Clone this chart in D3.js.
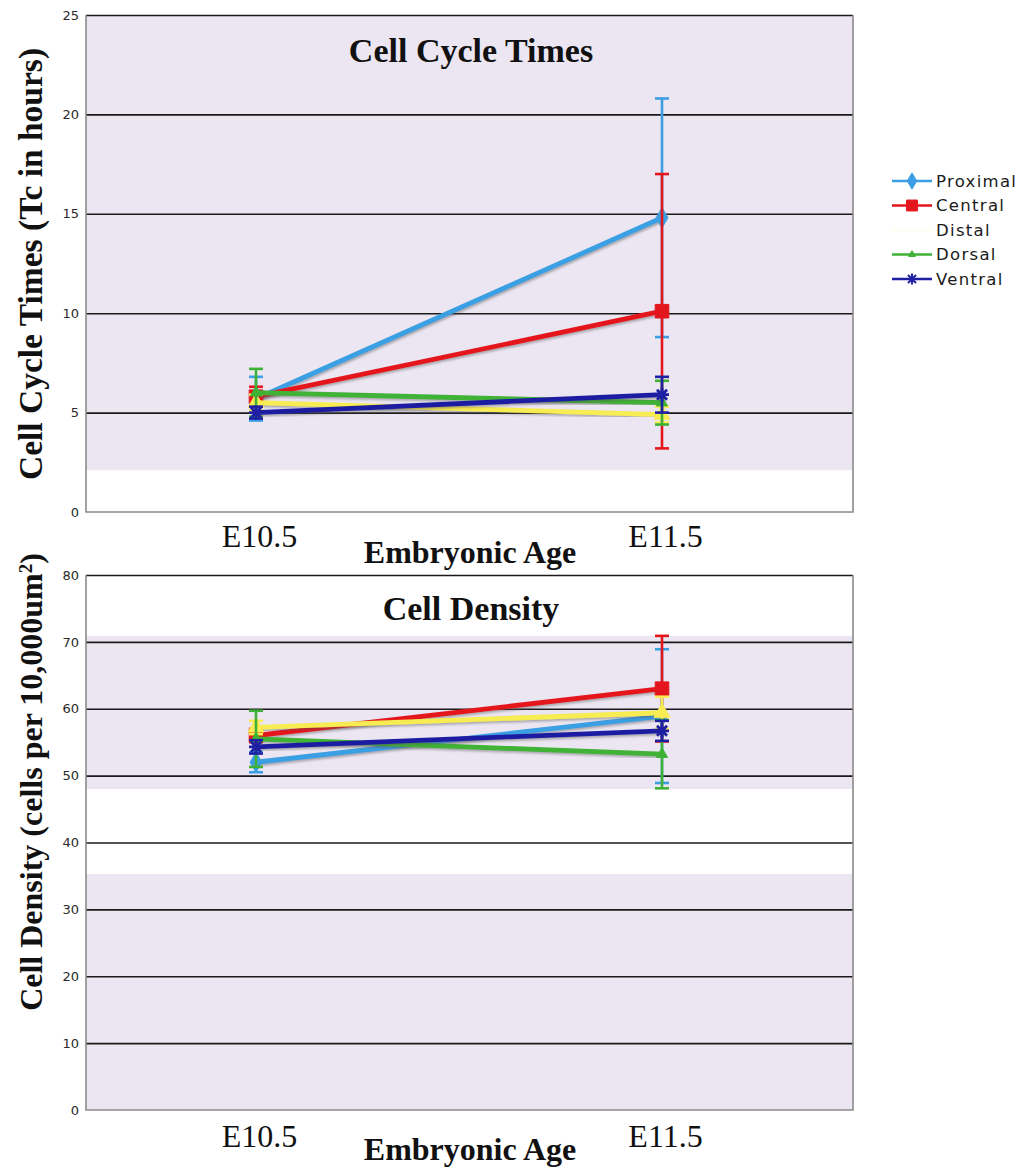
<!DOCTYPE html>
<html>
<head>
<meta charset="utf-8">
<script src="https://cdn.jsdelivr.net/npm/d3@7"></script>
<style>
  html, body { margin: 0; padding: 0; background: #fff; }
  svg { display: block; }
</style>
</head>
<body>
<svg id="chart" width="1031" height="1169"></svg>
<script>
// ---- data ----
const ages = ["E10.5", "E11.5"];
const regions = ["Proximal", "Central", "Distal", "Dorsal", "Ventral"];

// Cell cycle time Tc (hours): mean and error at each age
const tcProximal = [5.7, 14.8],  tcProximalErr = [1.1, 6.0];
const tcCentral  = [5.8, 10.1],  tcCentralErr  = [0.5, 6.9];
const tcDistal   = [5.5, 4.9],   tcDistalErr   = [0.4, 0.4];
const tcDorsal   = [6.0, 5.5],   tcDorsalErr   = [1.2, 1.1];
const tcVentral  = [5.0, 5.9],   tcVentralErr  = [0.3, 0.9];

// Cell density (cells per 10,000 um²): mean and error at each age
const denProximal = [52.0, 58.9], denProximalErr = [1.5, 10.0];
const denCentral  = [56.0, 63.0], denCentralErr  = [1.0, 7.9];
const denDistal   = [57.2, 59.4], denDistalErr   = [1.0, 2.4];
const denDorsal   = [55.5, 53.2], denDorsalErr   = [4.2, 5.1];
const denVentral  = [54.3, 56.7], denVentralErr  = [1.0, 1.5];

const tcTicks = [0, 5, 10, 15, 20, 25];
const denTicks = [0, 10, 20, 30, 40, 50, 60, 70, 80];

// shaded value ranges of the plot backgrounds
const tcShade = [[2.1, 25]];
const denShade = [[0, 35.3], [48, 70.9]];

// ---- styles ----
const colors = {
  Proximal: "#3b9fe3",
  Central: "#e4161d",
  Distal: "#f8ec52",
  Dorsal: "#3fb236",
  Ventral: "#1f1fa3"
};
const legendLineColors = Object.assign({}, colors, { Distal: "#fffdf0" });
const shadeColor = "#ebe6f2";

const svg = d3.select("#chart");
const defs = svg.append("defs");
defs.append("filter").attr("id", "lineShadow")
  .attr("x", "-5%").attr("y", "-20%").attr("width", "110%").attr("height", "140%")
  .append("feDropShadow")
  .attr("dx", 1).attr("dy", 1.8).attr("stdDeviation", 0.8)
  .attr("flood-color", "#555").attr("flood-opacity", 0.45);

function markerPath(name, scale) {
  const s = scale || 1;
  if (name === "Ventral") {
    const r = 7 * s;
    const d = r * 0.72;
    return `M${-d},${-d}L${d},${d}M${-d},${d}L${d},${-d}M0,${-r}L0,${r}M${-r},0L${r},0`;
  }
  const types = {
    Proximal: [d3.symbolDiamond, 120],
    Central: [d3.symbolSquare, 185],
    Distal: [d3.symbolTriangle, 110],
    Dorsal: [d3.symbolTriangle, 55]
  };
  const t = types[name];
  return d3.symbol().type(t[0]).size(t[1] * s * s)();
}

function drawPanel(opt) {
  const { x0, x1, y0, y1, maxV, ticks, shade, series } = opt;
  const g = svg.append("g");

  const y = d3.scaleLinear().domain([0, maxV]).range([y1, y0]);
  const x = d3.scalePoint().domain(ages).range([256, 662]);

  // background bands
  g.selectAll("rect.shade").data(shade).join("rect")
    .attr("class", "shade")
    .attr("x", x0).attr("width", x1 - x0)
    .attr("y", d => y(d[1])).attr("height", d => y(d[0]) - y(d[1]))
    .attr("fill", shadeColor);

  // horizontal gridlines
  const grid = g.append("g").attr("transform", `translate(${x0},0)`)
    .call(d3.axisLeft(y).tickValues(ticks.filter(t => t > 0)).tickSize(-(x1 - x0)).tickFormat(""));
  grid.select(".domain").remove();
  grid.selectAll(".tick line").attr("stroke", "#1a1a1a").attr("stroke-width", 1.6);

  // frame: left, bottom and right edges
  g.append("path")
    .attr("d", `M${x0},${y0}L${x0},${y1}L${x1},${y1}L${x1},${y0}`)
    .attr("fill", "none").attr("stroke", "#8a8a8a").attr("stroke-width", 1.6);

  // value axis labels
  const ya = g.append("g").attr("transform", `translate(${x0},0)`)
    .call(d3.axisLeft(y).tickValues(ticks).tickSize(0).tickPadding(7));
  ya.select(".domain").remove();
  ya.selectAll("text")
    .attr("font-family", "DejaVu Sans, Verdana, sans-serif")
    .attr("font-size", 13).attr("fill", "#2a2a2a");

  // age axis labels
  const xa = g.append("g").attr("transform", `translate(0,${y1 + opt.ageLabelOffset})`)
    .call(d3.axisBottom(x).tickSize(0).tickPadding(0));
  xa.select(".domain").remove();
  xa.selectAll(".tick text")
    .attr("font-family", "Liberation Serif, Times New Roman, serif")
    .attr("font-size", 32).attr("fill", "#111")
    .attr("dy", 0).attr("dx", 3);

  // series: error bars, line, markers
  series.forEach(s => {
    const pts = ages.map((a, i) => ({ a, v: s.values[i], e: s.errors[i] }));
    const col = colors[s.name];
    const sg = g.append("g");

    const eb = sg.selectAll("g.err").data(pts).join("g").attr("class", "err");
    eb.append("line")
      .attr("x1", d => x(d.a)).attr("x2", d => x(d.a))
      .attr("y1", d => y(d.v - d.e)).attr("y2", d => y(d.v + d.e))
      .attr("stroke", col).attr("stroke-width", 2.6);
    [-1, 1].forEach(sign => {
      eb.append("line")
        .attr("x1", d => x(d.a) - 7).attr("x2", d => x(d.a) + 7)
        .attr("y1", d => y(d.v + sign * d.e)).attr("y2", d => y(d.v + sign * d.e))
        .attr("stroke", col).attr("stroke-width", 2.6);
    });

    sg.append("path")
      .datum(pts)
      .attr("d", d3.line().x(d => x(d.a)).y(d => y(d.v)))
      .attr("fill", "none").attr("stroke", col).attr("stroke-width", 4.8)
      .attr("stroke-linecap", "round")
      .attr("filter", "url(#lineShadow)");

    sg.selectAll("path.mk").data(pts).join("path")
      .attr("class", "mk")
      .attr("transform", d => `translate(${x(d.a)},${y(d.v)})`)
      .attr("d", markerPath(s.name))
      .attr("fill", s.name === "Ventral" ? "none" : col)
      .attr("stroke", col)
      .attr("stroke-width", s.name === "Ventral" ? 2.8 : 1);
  });

  // title
  g.append("text")
    .attr("x", 471).attr("y", opt.titleY)
    .attr("text-anchor", "middle")
    .attr("font-family", "Liberation Serif, Times New Roman, serif")
    .attr("font-weight", "bold").attr("font-size", 34).attr("fill", "#111")
    .text(opt.title);

  // age axis title
  g.append("text")
    .attr("x", 470).attr("y", opt.xTitleY)
    .attr("text-anchor", "middle")
    .attr("font-family", "Liberation Serif, Times New Roman, serif")
    .attr("font-weight", "bold").attr("font-size", 32).attr("fill", "#111")
    .text("Embryonic Age");

  // value axis title
  const yt = g.append("text")
    .attr("transform", `translate(42,${opt.yTitleY}) rotate(-90)`)
    .attr("text-anchor", "middle")
    .attr("font-family", "Liberation Serif, Times New Roman, serif")
    .attr("font-weight", "bold").attr("font-size", opt.yTitleSize).attr("fill", "#111");
  opt.yTitle.forEach(part => {
    const t = yt.append("tspan").text(part.text);
    if (part.sup) t.attr("baseline-shift", "super").attr("font-size", 19);
  });
}

function build(name, values, errors) { return { name, values, errors }; }

drawPanel({
  x0: 86, x1: 853, y0: 15, y1: 512, maxV: 25, ticks: tcTicks, shade: tcShade,
  ageLabelOffset: 35, titleY: 62, xTitleY: 563, yTitleY: 264, yTitleSize: 33.5,
  title: "Cell Cycle Times",
  yTitle: [{ text: "Cell Cycle Times (Tc in hours)" }],
  series: [
    build("Proximal", tcProximal, tcProximalErr),
    build("Central", tcCentral, tcCentralErr),
    build("Distal", tcDistal, tcDistalErr),
    build("Dorsal", tcDorsal, tcDorsalErr),
    build("Ventral", tcVentral, tcVentralErr)
  ]
});

drawPanel({
  x0: 86, x1: 853, y0: 575, y1: 1110, maxV: 80, ticks: denTicks, shade: denShade,
  ageLabelOffset: 37, titleY: 620, xTitleY: 1160, yTitleY: 782, yTitleSize: 32,
  title: "Cell Density",
  yTitle: [{ text: "Cell Density (cells per 10,000um" }, { text: "2", sup: true }, { text: ")" }],
  series: [
    build("Proximal", denProximal, denProximalErr),
    build("Central", denCentral, denCentralErr),
    build("Distal", denDistal, denDistalErr),
    build("Dorsal", denDorsal, denDorsalErr),
    build("Ventral", denVentral, denVentralErr)
  ]
});

// legend
const legend = svg.append("g").attr("transform", "translate(892,181)");
const items = legend.selectAll("g").data(regions).join("g")
  .attr("transform", (d, i) => `translate(0,${i * 24.5})`);
items.append("line")
  .attr("x1", 0).attr("x2", 40).attr("y1", 0).attr("y2", 0)
  .attr("stroke", d => legendLineColors[d]).attr("stroke-width", 2.4);
items.filter(d => d !== "Distal").append("path")
  .attr("transform", "translate(20,0)")
  .attr("d", d => markerPath(d, d === "Dorsal" ? 0.6 : 0.8))
  .attr("fill", d => d === "Ventral" ? "none" : colors[d])
  .attr("stroke", d => colors[d])
  .attr("stroke-width", d => d === "Ventral" ? 2 : 1);
items.append("text")
  .attr("x", 44).attr("y", 0).attr("dy", "0.36em")
  .attr("font-family", "DejaVu Sans, Verdana, sans-serif")
  .attr("font-size", 16.5).attr("letter-spacing", 1.3).attr("fill", "#1a1a1a")
  .text(d => d);
</script>
</body>
</html>
